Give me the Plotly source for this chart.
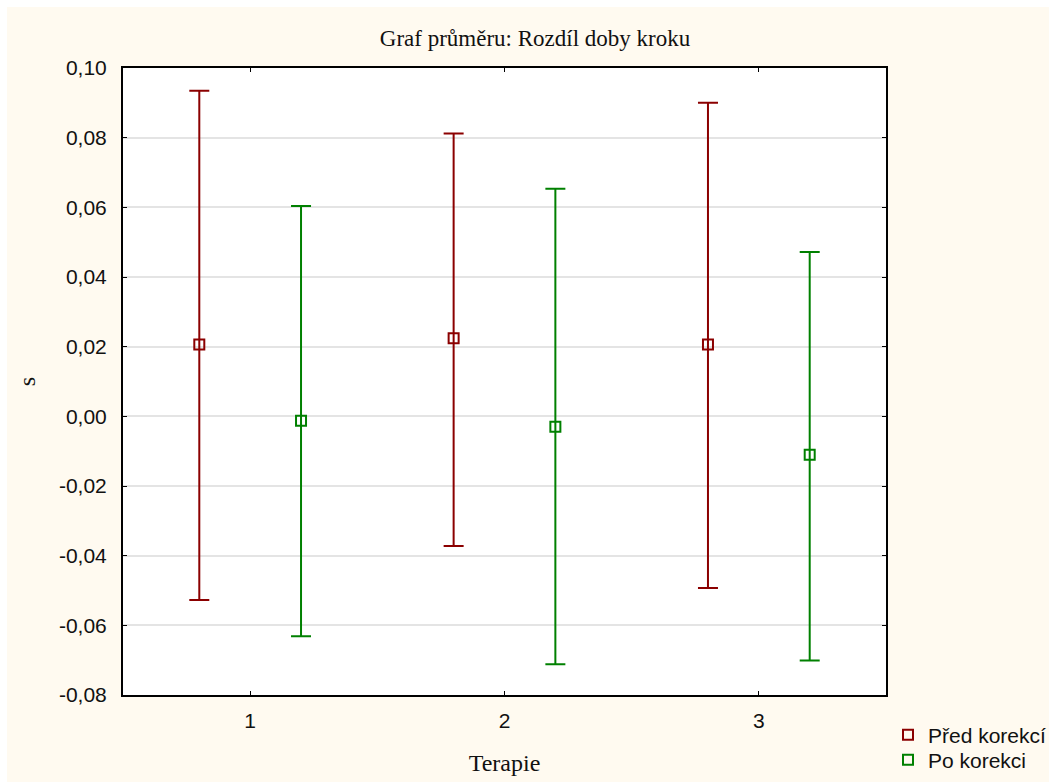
import plotly.graph_objects as go

categories = [1, 2, 3]
pred_mean = [0.0206, 0.0224, 0.0206]
pred_upper = [0.0935, 0.0812, 0.0900]
pred_lower = [-0.0527, -0.0372, -0.0493]
po_mean = [-0.0013, -0.0030, -0.0110]
po_upper = [0.0604, 0.0653, 0.0472]
po_lower = [-0.0631, -0.0712, -0.0701]
ytick_vals = [-0.08, -0.06, -0.04, -0.02, 0.0, 0.02, 0.04, 0.06, 0.08, 0.10]
ytick_text = ["-0,08", "-0,06", "-0,04", "-0,02", "0,00", "0,02", "0,04", "0,06", "0,08", "0,10"]

RED = "#8b0000"
GREEN = "#008000"
CREAM = "#fffaf0"
OFFSET = 0.2

L, R, T, B = 123, 163, 68, 87
W, H = 1049, 782
pw, ph = W - L - R, H - T - B


def px_x(p):
    return (p - L) / pw


def px_y(p):
    return (H - B - p) / ph


def trace(name, means, up, lo, color, shift, legend):
    return go.Scatter(
        x=[c + shift for c in categories],
        y=means,
        mode="markers",
        name=name,
        legend=legend,
        marker=dict(symbol="square-open", size=10, color=color, line=dict(width=2, color=color)),
        error_y=dict(
            type="data", symmetric=False,
            array=[u - m for u, m in zip(up, means)],
            arrayminus=[m - l for l, m in zip(lo, means)],
            color=color, thickness=2, width=10,
        ),
    )

fig = go.Figure()
fig.add_trace(trace("Před korekcí", pred_mean, pred_upper, pred_lower, RED, -OFFSET, "legend"))
fig.add_trace(trace("Po korekci", po_mean, po_upper, po_lower, GREEN, OFFSET, "legend2"))

# white outer border strips (top and left)
fig.add_shape(type="rect", xref="paper", yref="paper", layer="below",
              x0=px_x(-5), x1=px_x(W + 5), y0=px_y(7), y1=px_y(-5),
              fillcolor="white", line=dict(width=0))
fig.add_shape(type="rect", xref="paper", yref="paper", layer="below",
              x0=px_x(-5), x1=px_x(7), y0=px_y(H + 5), y1=px_y(-5),
              fillcolor="white", line=dict(width=0))

leg_common = dict(x=px_x(888), xanchor="left", yanchor="middle",
                  bgcolor="rgba(0,0,0,0)",
                  font=dict(family="Liberation Sans", size=21, color="#111"))

fig.update_layout(
    width=W, height=H,
    margin=dict(l=L, r=R, t=T, b=B, autoexpand=False),
    paper_bgcolor=CREAM,
    plot_bgcolor="white",
    title=dict(text="Graf průměru: Rozdíl doby kroku", x=535 / W, xanchor="center",
               y=1 - 38 / H, yanchor="middle",
               font=dict(family="Liberation Serif", size=23, color="#111")),
    xaxis=dict(range=[0.5, 3.5], tickvals=categories, ticktext=[str(c) for c in categories],
               showgrid=False, zeroline=False, showline=True, linecolor="black", linewidth=2,
               mirror="ticks", ticks="inside", ticklen=4, tickcolor="black", tickwidth=1,
               tickfont=dict(family="Liberation Sans", size=21, color="#111"),
               ticklabelstandoff=6,
               title=dict(text="Terapie", font=dict(family="Liberation Serif", size=24, color="#111"),
                          standoff=23)),
    yaxis=dict(range=[-0.08, 0.10], tickvals=ytick_vals, ticktext=ytick_text,
               showgrid=True, gridcolor="#e4e4e4", gridwidth=1.5, zeroline=False,
               showline=True, linecolor="black", linewidth=2,
               mirror="ticks", ticks="inside", ticklen=4, tickcolor="black", tickwidth=1,
               tickfont=dict(family="Liberation Sans", size=21, color="#111"),
               ticklabelstandoff=10,
               title=dict(text="s", font=dict(family="Liberation Serif", size=24, color="#111"),
                          standoff=17)),
    legend=dict(y=px_y(735), **leg_common),
    legend2=dict(y=px_y(760), **leg_common),
    showlegend=True,
)

fig.write_html("out.html")
